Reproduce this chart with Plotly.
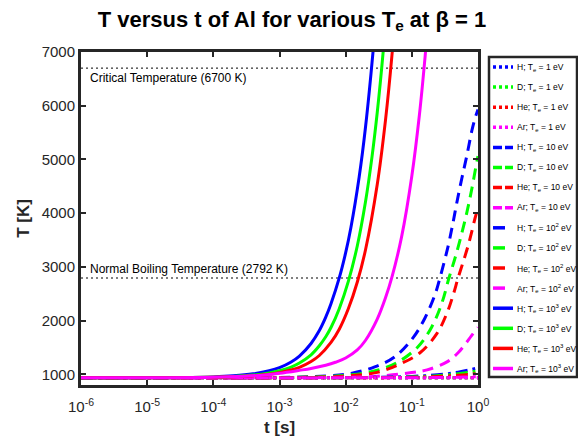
import plotly.graph_objects as go

# Heating of an aluminium target (beta = 1) by H, D, He and Ar plasmas
# at several electron temperatures; start temperature is the Al melting point.
GASES = ["H", "D", "He", "Ar"]
COLORS = ["#0000FF", "#00FF00", "#FF0000", "#FF00FF"]
TE_LABELS = ["1", "10", "10<sup>2</sup>", "10<sup>3</sup>"]

CRITICAL_T = 6700
BOILING_T = 2792

X_TICK_VALS = [1e-6, 1e-5, 1e-4, 1e-3, 1e-2, 1e-1, 1]
X_TICK_TEXT = ["10<sup>-6</sup>", "10<sup>-5</sup>", "10<sup>-4</sup>",
               "10<sup>-3</sup>", "10<sup>-2</sup>", "10<sup>-1</sup>",
               "10<sup>0</sup>"]
Y_TICK_VALS = [1000, 2000, 3000, 4000, 5000, 6000, 7000]

# ---- Te = 1 eV --------------------------------------------------------
t_1ev = [1e-6, 1e-3, 1e-2, 1e-1, 1.0]
T_H_1ev = [933, 933, 933, 934, 936]
T_D_1ev = [933, 933, 933, 934, 935]
T_He_1ev = [933, 933, 933, 933, 934]
T_Ar_1ev = [933, 933, 933, 933, 933]

# ---- Te = 10 eV -------------------------------------------------------
t_H_10ev = [1e-6, 1e-4, 1e-3, 0.005, 0.0125, 0.0275, 0.055, 0.104, 0.158,
            0.223, 0.266, 0.351, 0.418, 0.48, 0.57, 0.68, 0.81, 0.9, 1.0]
T_H_10ev = [933, 934, 940, 968, 1020, 1137, 1323, 1677, 2048,
            2476, 2792, 3368, 3814, 4204, 4650, 5078, 5543, 5760, 5930]
t_D_10ev = [1e-6, 1e-4, 1e-3, 0.005, 0.0125, 0.03, 0.059, 0.123, 0.20,
            0.285, 0.364, 0.45, 0.55, 0.68, 0.81, 0.97, 1.0]
T_D_10ev = [933, 934, 938, 958, 992, 1075, 1212, 1509, 1881,
            2330, 2792, 3164, 3554, 4018, 4464, 4985, 5060]
t_He_10ev = [1e-6, 1e-4, 1e-3, 0.005, 0.0125, 0.03, 0.062, 0.133, 0.24,
             0.34, 0.42, 0.5, 0.6, 0.7, 0.8, 0.9, 1.0]
T_He_10ev = [933, 934, 937, 950, 975, 1035, 1175, 1400, 1760,
             2140, 2470, 2792, 3100, 3370, 3640, 3900, 4100]
t_Ar_10ev = [1e-6, 1e-3, 0.01, 0.03, 0.093, 0.17, 0.34, 0.5, 0.64, 0.8, 1.0]
T_Ar_10ev = [933, 934, 943, 965, 1026, 1082, 1230, 1400, 1560, 1720, 1870]

# ---- Te = 10^2 eV -----------------------------------------------------
t_100ev = [1e-6, 0.01, 0.1, 0.3, 0.5, 0.7, 1.0]
T_H_100ev = [933, 937, 960, 1000, 1040, 1075, 1120]
T_D_100ev = [933, 935, 950, 980, 1010, 1035, 1065]
T_He_100ev = [933, 934, 943, 962, 980, 995, 1015]
T_Ar_100ev = [933, 933, 935, 940, 945, 950, 955]

# ---- Te = 10^3 eV -----------------------------------------------------
t_H_1kev = [1e-6, 1e-5, 3e-5, 1e-4, 2e-4, 4e-4, 7e-4, 1e-3, 1.5e-3, 2e-3,
            3e-3, 4e-3, 5e-3, 6e-3, 8e-3, 0.01, 0.012, 0.016, 0.02, 0.026,
            0.03]
T_H_1kev = [933, 935, 939, 951, 970, 1008, 1065, 1123, 1228, 1338,
            1573, 1813, 2063, 2313, 2793, 3263, 3733, 4673, 5613, 7023,
            7963]
t_D_1kev = [1e-6, 1e-5, 1e-4, 2e-4, 4e-4, 7e-4, 1e-3, 1.5e-3, 2e-3, 3e-3,
            4e-3, 5e-3, 6e-3, 8e-3, 0.011, 0.015, 0.02, 0.025, 0.03, 0.037,
            0.04]
T_D_1kev = [933, 934, 946, 959, 985, 1026, 1066, 1134, 1209, 1363,
            1531, 1698, 1870, 2221, 2733, 3393, 4223, 5048, 5873, 7023,
            7543]
t_He_1kev = [1e-6, 1e-5, 1e-4, 2e-4, 4e-4, 7e-4, 1e-3, 1.5e-3, 2e-3, 3e-3,
             4e-3, 6e-3, 8e-3, 0.011, 0.015, 0.02, 0.03, 0.04, 0.05, 0.06]
T_He_1kev = [933, 934, 942, 952, 971, 1000, 1029, 1078, 1128, 1237,
             1349, 1592, 1838, 2223, 2718, 3323, 4533, 5733, 6933, 8143]
t_Ar_1kev = [1e-6, 1e-5, 1e-4, 3e-4, 6e-4, 1e-3, 2e-3, 3e-3, 5e-3, 7e-3,
             0.01, 0.015, 0.02, 0.03, 0.04, 0.05, 0.07, 0.1, 0.13, 0.16,
             0.18]
T_Ar_1kev = [933, 934, 943, 963, 988, 1018, 1073, 1108, 1168, 1223,
             1303, 1453, 1633, 2026, 2423, 2808, 3558, 4693, 5823, 6963,
             7703]

# series grouped by electron temperature, gases in GASES order
SERIES = [
    [(t_1ev, T_H_1ev), (t_1ev, T_D_1ev), (t_1ev, T_He_1ev), (t_1ev, T_Ar_1ev)],
    [(t_H_10ev, T_H_10ev), (t_D_10ev, T_D_10ev),
     (t_He_10ev, T_He_10ev), (t_Ar_10ev, T_Ar_10ev)],
    [(t_100ev, T_H_100ev), (t_100ev, T_D_100ev),
     (t_100ev, T_He_100ev), (t_100ev, T_Ar_100ev)],
    [(t_H_1kev, T_H_1kev), (t_D_1kev, T_D_1kev),
     (t_He_1kev, T_He_1kev), (t_Ar_1kev, T_Ar_1kev)],
]
DASHES = ["3px,3px", "11px,7px", "12px,5px,3px,5px", "solid"]
LEGEND_DASHES = ["3px,3px", "9px,3px", "12px,8px", "solid"]

FONT = "Liberation Sans, Arial, sans-serif"
AX_COLOR = "#262626"

fig = go.Figure()

# reference temperatures
for level in (CRITICAL_T, BOILING_T):
    fig.add_trace(go.Scatter(
        x=[X_TICK_VALS[0], X_TICK_VALS[-1]], y=[level, level],
        mode="lines", line=dict(color="black", width=1, dash="2px,3px"),
        showlegend=False, hoverinfo="skip"))

for ti, group in enumerate(SERIES):
    for gi, (tt, TT) in enumerate(group):
        fig.add_trace(go.Scatter(
            x=tt, y=TT, mode="lines", line_shape="spline",
            line=dict(color=COLORS[gi], width=3, dash=DASHES[ti]),
            name=f"{GASES[gi]}; T<sub>e</sub> = {TE_LABELS[ti]} eV",
            showlegend=False))

# plot-area geometry in pixels
PX_L, PX_R, PX_T, PX_B = 81, 478, 52, 385


def paper_x(px):
    return (px - PX_L) / (PX_R - PX_L)


def paper_y(py):
    return (PX_B - py) / (PX_B - PX_T)


shapes = []
annotations = []

# legend box with line samples and labels
LEG_L, LEG_R, LEG_T, LEG_B = 489, 577, 57, 377
shapes.append(dict(type="rect", xref="paper", yref="paper",
                   x0=paper_x(LEG_L), x1=paper_x(LEG_R),
                   y0=paper_y(LEG_B), y1=paper_y(LEG_T),
                   line=dict(color=AX_COLOR, width=2.5),
                   fillcolor="white", layer="above"))
row = 0
for ti in range(4):
    for gi in range(4):
        yc = 67 + row * 20.1
        shapes.append(dict(type="line", xref="paper", yref="paper",
                           x0=paper_x(493), x1=paper_x(513),
                           y0=paper_y(yc), y1=paper_y(yc),
                           line=dict(color=COLORS[gi], width=3.5,
                                     dash=LEGEND_DASHES[ti])))
        annotations.append(dict(
            xref="paper", yref="paper", x=paper_x(515), y=paper_y(yc),
            xanchor="left", yanchor="middle", showarrow=False,
            text=f"{GASES[gi]}; T<sub>e</sub> = {TE_LABELS[ti]} eV",
            font=dict(family=FONT, size=8.5, color="black")))
        row += 1

annotations.append(dict(
    xref="paper", yref="y", x=paper_x(88), y=CRITICAL_T,
    xanchor="left", yanchor="top", showarrow=False, yshift=-1,
    text="Critical Temperature (6700 K)",
    font=dict(family=FONT, size=12, color="black")))
annotations.append(dict(
    xref="paper", yref="y", x=paper_x(88), y=BOILING_T,
    xanchor="left", yanchor="bottom", showarrow=False, yshift=0,
    text="Normal Boiling Temperature (2792 K)",
    font=dict(family=FONT, size=12, color="black")))

axis_common = dict(
    showline=True, linewidth=3, linecolor=AX_COLOR, mirror="ticks",
    ticks="inside", ticklen=5, tickwidth=2, tickcolor=AX_COLOR,
    showgrid=False, zeroline=False, automargin=False,
    tickfont=dict(family=FONT, size=15, color=AX_COLOR),
)

fig.update_layout(
    width=578, height=445,
    margin=dict(l=PX_L, r=578 - PX_R, t=PX_T, b=445 - PX_B),
    paper_bgcolor="white", plot_bgcolor="white",
    title=dict(
        text="<b>T versus t of Al for various T<sub>e</sub> at β = 1</b>",
        xref="container", x=292 / 578, xanchor="center",
        yref="container", y=1 - 19 / 445, yanchor="middle",
        automargin=False,
        font=dict(family=FONT, size=22, color="black")),
    xaxis=dict(type="log", range=[-6, 0], tickvals=X_TICK_VALS,
               ticktext=X_TICK_TEXT, ticklabelstandoff=6,
               title=dict(text="<b>t [s]</b>", standoff=8,
                          font=dict(family=FONT, size=17, color=AX_COLOR)),
               **axis_common),
    yaxis=dict(range=[800, 7000], tickvals=Y_TICK_VALS,
               title=dict(text="<b>T [K]</b>", standoff=8,
                          font=dict(family=FONT, size=17, color=AX_COLOR)),
               **axis_common),
    shapes=shapes, annotations=annotations, showlegend=False,
)

fig.write_html("out.html")
